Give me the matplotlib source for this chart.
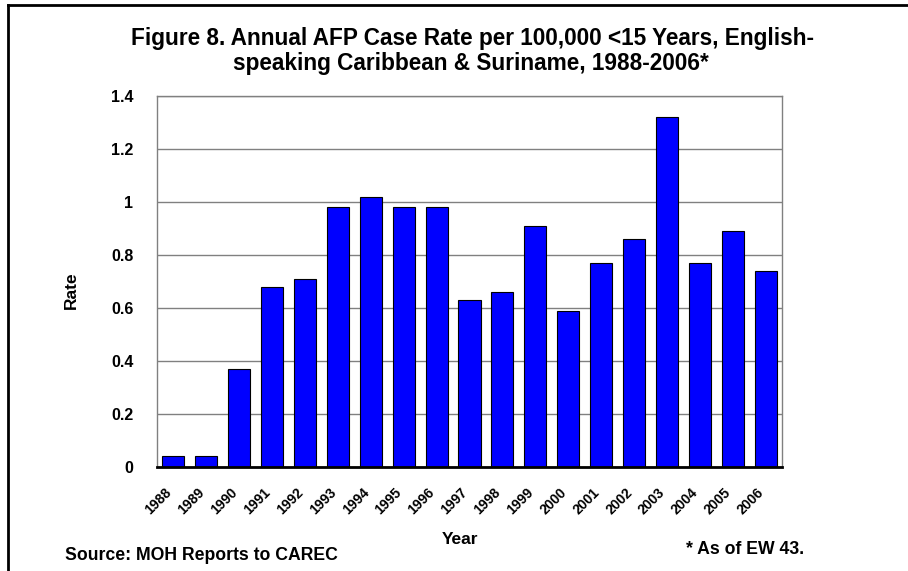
import matplotlib.pyplot as plt
from matplotlib.lines import Line2D
from matplotlib.transforms import ScaledTranslation

plt.rcParams['font.family'] = ['Liberation Sans', 'DejaVu Sans']
plt.rcParams['font.weight'] = 'bold'

years = ['1988', '1989', '1990', '1991', '1992', '1993', '1994', '1995', '1996', '1997',
         '1998', '1999', '2000', '2001', '2002', '2003', '2004', '2005', '2006']
rates = [0.04, 0.04, 0.37, 0.68, 0.71, 0.98, 1.02, 0.98, 0.98, 0.63,
         0.66, 0.91, 0.59, 0.77, 0.86, 1.32, 0.77, 0.89, 0.74]
yticks = [0, 0.2, 0.4, 0.6, 0.8, 1, 1.2, 1.4]
ytick_labels = ['0', '0.2', '0.4', '0.6', '0.8', '1', '1.2', '1.4']

W, H = 908, 571
fig = plt.figure(figsize=(W / 100, H / 100), dpi=100)
ax = fig.add_axes([157 / W, 1 - 467 / H, (782 - 157) / W, (467 - 96) / H])

x = list(range(len(years)))
ax.bar(x, rates, width=0.67, color='#0000ff', edgecolor='black', linewidth=0.8, zorder=3)

ax.set_xlim(-0.5, len(years) - 0.5)
ax.set_ylim(0, 1.4)
ax.set_yticks(yticks)
ax.set_yticklabels(ytick_labels, fontsize=11.5, fontweight='bold')
ax.set_xticks(x)
ax.set_xticklabels(years, rotation=45, ha='right', va='top', rotation_mode='anchor',
                   fontsize=10, fontweight='bold')
ax.tick_params(axis='y', length=0, pad=17)
ax.tick_params(axis='x', length=0, pad=13)
# nudge rotated year labels left so their ends sit under the bars like the original
shift = ScaledTranslation(-0.09, 0, fig.dpi_scale_trans)
for lab in ax.get_xticklabels():
    lab.set_transform(lab.get_transform() + shift)
ax.grid(axis='y', color='#808080', linewidth=1, zorder=0)

for s in ['left', 'top', 'right']:
    ax.spines[s].set_color('#808080')
    ax.spines[s].set_linewidth(1)
ax.spines['bottom'].set_color('black')
ax.spines['bottom'].set_linewidth(2)
ax.spines['bottom'].set_zorder(4)

fig.text(472 / W, 1 - 45 / H, 'Figure 8. Annual AFP Case Rate per 100,000 <15 Years, English-',
         ha='center', va='baseline', fontsize=16.3, fontweight='bold')
fig.text(471 / W, 1 - 70 / H, 'speaking Caribbean & Suriname, 1988-2006*',
         ha='center', va='baseline', fontsize=16.3, fontweight='bold')

fig.text(71 / W, 1 - 290 / H, 'Rate', rotation=90, ha='center', va='center',
         fontsize=12.5, fontweight='bold')
fig.text(460 / W, 1 - 540 / H, 'Year', ha='center', va='center',
         fontsize=12.5, fontweight='bold')
fig.text(65 / W, 1 - 555 / H, 'Source: MOH Reports to CAREC', ha='left', va='center',
         fontsize=12.7, fontweight='bold')
fig.text(804 / W, 1 - 549 / H, '* As of EW 43.', ha='right', va='center',
         fontsize=12.7, fontweight='bold')

# outer frame (left and top edges visible)
fig.add_artist(Line2D([8 / W, 8 / W], [0, 1 - 5 / H], color='black', linewidth=2,
                      transform=fig.transFigure))
fig.add_artist(Line2D([8 / W, 1], [1 - 5 / H, 1 - 5 / H], color='black', linewidth=2,
                      transform=fig.transFigure))

fig.savefig('out.png', dpi=100)
